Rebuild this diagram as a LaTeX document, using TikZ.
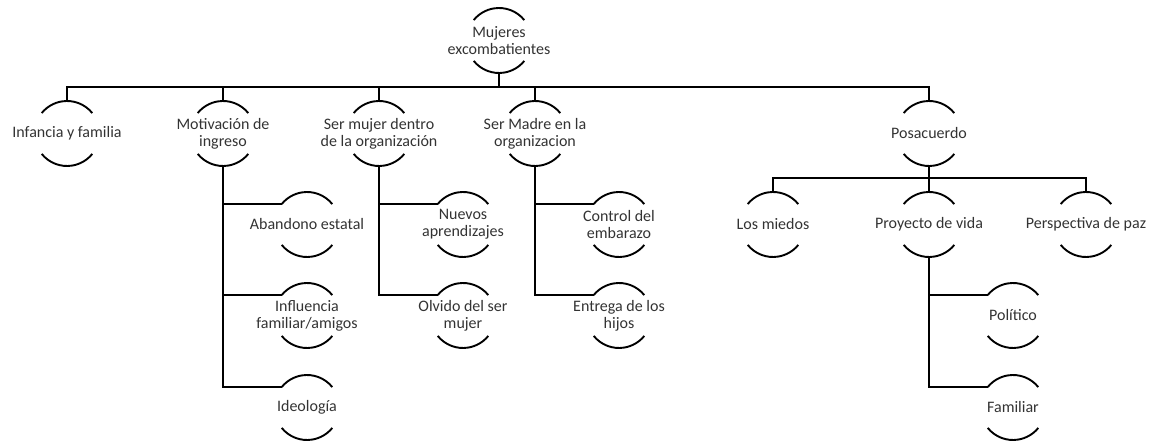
\documentclass[tikz,border=0pt]{standalone}
\usepackage{fontspec}
\setmainfont{Carlito}
\definecolor{txt}{HTML}{333333}
\begin{document}
\begin{tikzpicture}[x=1pt,y=1pt,
  hnode/.style={inner sep=0pt, align=center, text=txt, font=\fontsize{16}{17}\selectfont},
  conn/.style={line width=1.9pt, black},
  arcline/.style={line width=1.9pt, black}]
\useasboundingbox (0,0) rectangle (1154,-443);
% root
\node[hnode] (root) at (499,-40.5) {Mujeres\\excombatientes};
% level 1
\node[hnode] (inf) at (67,-133.5) {Infancia y familia};
\node[hnode] (mot) at (223,-133.5) {Motivación de\\ingreso};
\node[hnode] (muj) at (379,-133.5) {Ser mujer dentro\\de la organización};
\node[hnode] (mad) at (535,-133.5) {Ser Madre en la\\organizacion};
\node[hnode] (pos) at (929,-133.5) {Posacuerdo};
% posacuerdo children
\node[hnode] (mie) at (773,-224.5) {Los miedos};
\node[hnode] (pro) at (929,-224.5) {Proyecto de vida};
\node[hnode] (paz) at (1086,-224.5) {Perspectiva de paz};
% side children
\node[hnode] (aba) at (307,-224.5) {Abandono estatal};
\node[hnode] (inl) at (307,-315.5) {Influencia\\familiar/amigos};
\node[hnode] (ide) at (307,-407.5) {Ideología};
\node[hnode] (nue) at (463,-224.5) {Nuevos\\aprendizajes};
\node[hnode] (olv) at (463,-315.5) {Olvido del ser\\mujer};
\node[hnode] (con) at (619,-224.5) {Control del\\embarazo};
\node[hnode] (ent) at (619,-315.5) {Entrega de los\\hijos};
\node[hnode] (pol) at (1013,-315.5) {Político};
\node[hnode] (fam) at (1013,-407.5) {Familiar};
% arcs
\foreach \n in {root,inf,mot,muj,mad,pos,mie,pro,paz,aba,inl,ide,nue,olv,con,ent,pol,fam}{
  \draw[arcline] ([shift={(39:32.5pt)}]\n.center) arc[start angle=39, end angle=141, radius=32.5pt];
  \draw[arcline] ([shift={(219:32.5pt)}]\n.center) arc[start angle=219, end angle=321, radius=32.5pt];
}
% connectors level 1
\foreach \c in {inf,mot,muj,mad,pos}{
  \draw[conn] ([yshift=-32.5pt]root.center) -- ++(0,-14) -| ([yshift=32.5pt]\c.center);
}
% connectors posacuerdo
\foreach \c in {mie,pro,paz}{
  \draw[conn] ([yshift=-32.5pt]pos.center) -- ++(0,-12) -| ([yshift=32.5pt]\c.center);
}
% side connectors
\foreach \p/\c in {mot/aba,mot/inl,mot/ide,muj/nue,muj/olv,mad/con,mad/ent,pro/pol,pro/fam}{
  \draw[conn] ([yshift=-32.5pt]\p.center) |- ([shift={(141:32.5pt)}]\c.center);
}
\end{tikzpicture}
\end{document}
